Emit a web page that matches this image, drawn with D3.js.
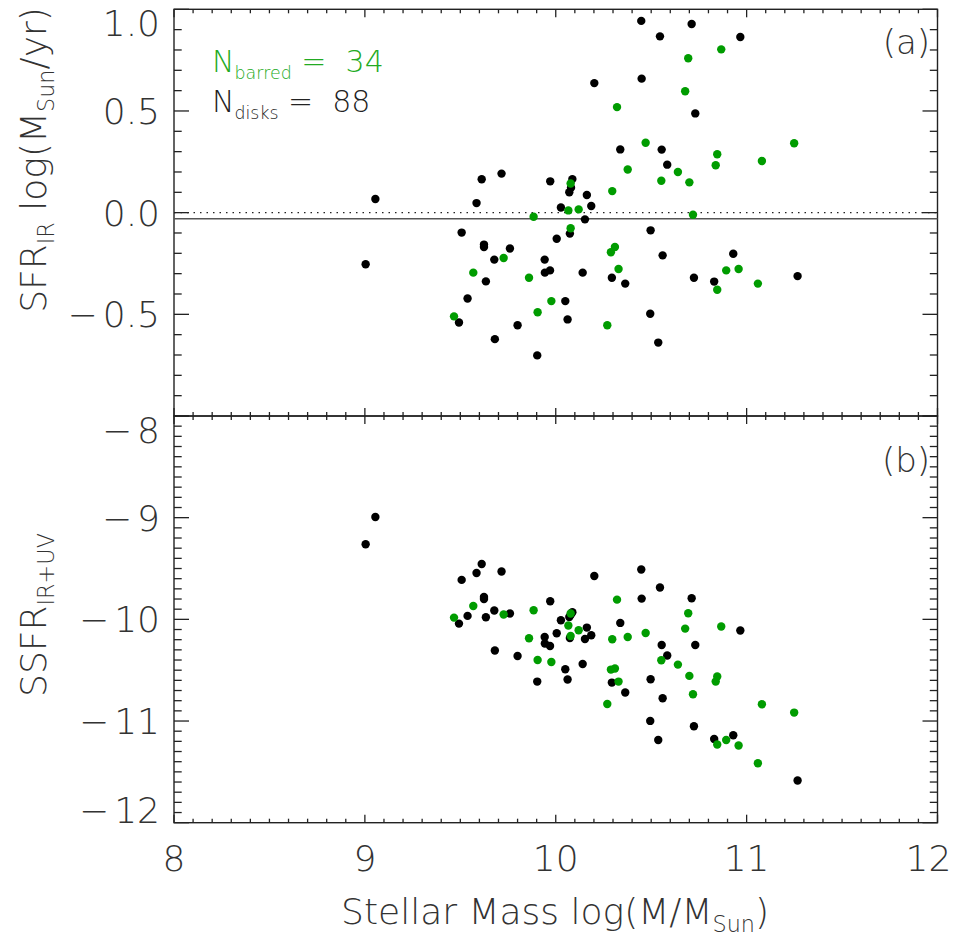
<!DOCTYPE html>
<html lang="en">
    <head>
        <meta charset="utf-8">
        <title>SFR vs Stellar Mass</title>
        <script src="https://d3js.org/d3.v7.min.js"></script>
        <style>
            body { margin: 0; background: #fff; }
            text { font-family: "DejaVu Sans", "Liberation Sans", sans-serif; font-weight: 200; fill: #333; }
        </style>
    </head>
    <body>
        <script type="text/javascript">

        	var w = 963;
        	var h = 938;

        	// disks without bars (black)
        	var diskMass = [9.004, 9.055, 9.493, 9.507, 9.538, 9.585, 9.612, 9.624, 9.624, 9.634,
        	                9.678, 9.681, 9.716, 9.760, 9.800, 9.903, 9.942, 9.943, 9.970, 9.971,
        	                10.005, 10.027, 10.050, 10.062, 10.071, 10.074, 10.080, 10.087, 10.141, 10.153,
        	                10.163, 10.186, 10.202, 10.294, 10.338, 10.364, 10.448, 10.450, 10.495, 10.497,
        	                10.537, 10.546, 10.555, 10.560, 10.584, 10.712, 10.724, 10.731, 10.830, 10.930,
        	                10.967, 11.267];
        	var diskSFR = [-0.254, 0.067, -0.540, -0.098, -0.422, 0.047, 0.164, -0.157, -0.169, -0.338,
        	               -0.231, -0.622, 0.192, -0.176, -0.554, -0.702, -0.231, -0.295, -0.284, 0.154,
        	               -0.128, 0.025, -0.435, -0.525, 0.100, -0.103, 0.123, 0.165, -0.295, -0.033,
        	               0.087, 0.033, 0.637, -0.320, 0.311, -0.349, 0.943, 0.659, -0.497, -0.087,
        	               -0.639, 0.867, 0.310, -0.210, 0.236, 0.928, -0.320, 0.488, -0.339, -0.202,
        	               0.864, -0.312];
        	var diskSSFR = [-9.262, -8.993, -10.042, -9.612, -9.966, -9.544, -9.455, -9.780, -9.800, -9.979,
        	                -9.913, -10.307, -9.530, -9.943, -10.360, -10.612, -10.173, -10.238, -10.262, -9.822,
        	                -10.137, -10.009, -10.491, -10.592, -9.976, -10.183, -9.950, -9.930, -10.439, -10.193,
        	                -10.081, -10.156, -9.573, -10.622, -10.035, -10.720, -9.510, -9.796, -10.999, -10.589,
        	                -11.186, -9.687, -10.252, -10.776, -10.356, -9.793, -11.051, -10.252, -11.176, -11.140,
        	                -10.110, -11.585];

        	// barred disks (green)
        	var barMass = [9.467, 9.568, 9.727, 9.860, 9.884, 9.905, 9.977, 10.066, 10.078, 10.078,
        	               10.120, 10.270, 10.289, 10.296, 10.310, 10.321, 10.329, 10.377, 10.471, 10.553,
        	               10.640, 10.678, 10.694, 10.700, 10.719, 10.838, 10.846, 10.846, 10.867, 10.893,
        	               10.958, 11.059, 11.080, 11.249];
        	var barSFR = [-0.510, -0.295, -0.223, -0.320, -0.020, -0.490, -0.435, 0.011, 0.143, -0.077,
        	              0.016, -0.554, -0.195, 0.106, -0.169, 0.519, -0.277, 0.212, 0.344, 0.157,
        	              0.200, 0.597, 0.759, 0.149, -0.010, 0.233, 0.287, -0.379, 0.803, -0.284,
        	              -0.277, -0.349, 0.254, 0.341];
        	var barSSFR = [-9.983, -9.868, -9.953, -10.186, -9.911, -10.400, -10.419, -10.061, -9.943, -10.163,
        	               -10.107, -10.832, -10.494, -10.196, -10.484, -9.806, -10.612, -10.173, -10.134, -10.402,
        	               -10.445, -10.091, -9.940, -10.556, -10.737, -10.612, -10.562, -11.231, -10.071, -11.186,
        	               -11.241, -11.415, -10.835, -10.917];

        	var xTicks = [8, 9, 10, 11, 12];
        	var topTicks = [-0.5, 0.0, 0.5, 1.0];
        	var botTicks = [-12, -11, -10, -9, -8];
        	var sfrLine = -0.03;

        	var green = "#009c00";

        	var x = d3.scaleLinear().domain([8, 12]).range([174, 937.5]);
        	var yTop = d3.scaleLinear().domain([-1, 1]).range([416, 9.3]);
        	var yBot = d3.scaleLinear().domain([-12, -8]).range([822.7, 416]);

        	function minors(lo, hi, step){
        		return d3.range(Math.round((hi - lo) / step) + 1).map(function(i){ return +(lo + i * step).toFixed(3); });
        	}

        	function fmt(v, dec){
        		return dec ? Math.abs(v).toFixed(1) : String(Math.abs(v));
        	}

			var svg = d3.select("body")
						.append("svg")
						.attr("width", w)
						.attr("height", h);

			svg.append("rect").attr("width", w).attr("height", h).attr("fill", "#fff");

			function tickMarks(g, vals, len, orient){
				g.selectAll(null)
				 .data(vals)
				 .enter()
				 .append("line")
				 .attr("stroke", "#222")
				 .attr("stroke-width", 1.3)
				 .each(function(d){
				 	var l = d3.select(this);
				 	if (orient.axis === "y") {
				 		var yy = orient.scale(d);
				 		l.attr("x1", orient.at).attr("x2", orient.at + orient.dir * len(d)).attr("y1", yy).attr("y2", yy);
				 	} else {
				 		var xx = x(d);
				 		l.attr("y1", orient.at).attr("y2", orient.at + orient.dir * len(d)).attr("x1", xx).attr("x2", xx);
				 	}
				 });
			}

			function panel(yScale, yDom, labels, dec){
				var g = svg.append("g");
				var top = yScale(yDom[1]), bot = yScale(yDom[0]);
				var yMinor = minors(yDom[0], yDom[1], 0.1);
				var ylen = function(d){
					var maj = dec ? Math.abs(d * 2 - Math.round(d * 2)) < 1e-6 : Math.abs(d - Math.round(d)) < 1e-6;
					return maj ? 15 : 7.7;
				};
				tickMarks(g, yMinor, ylen, {axis: "y", scale: yScale, at: 174, dir: 1});
				tickMarks(g, yMinor, ylen, {axis: "y", scale: yScale, at: 937.5, dir: -1});
				var xMinor = minors(8, 12, 0.1);
				var xlen = function(d){ return Math.abs(d - Math.round(d)) < 1e-6 ? 8 : 4; };
				tickMarks(g, xMinor, xlen, {axis: "x", at: bot, dir: -1});
				tickMarks(g, xMinor, xlen, {axis: "x", at: top, dir: 1});
				g.append("rect")
				 .attr("x", 174).attr("y", top)
				 .attr("width", 937.5 - 174).attr("height", bot - top)
				 .attr("fill", "none").attr("stroke", "#222").attr("stroke-width", 1.4);

				// tick labels, nudged inside the frame at the ends
				var t = g.selectAll("text.yl")
				 .data(labels)
				 .enter()
				 .append("text")
				 .attr("class", "yl")
				 .attr("x", 160)
				 .attr("y", function(d){
				 	var yy = yScale(d);
				 	if (Math.abs(yy - top) < 1) yy += 14;
				 	if (Math.abs(yy - bot) < 1) yy -= 13;
				 	return yy;
				 })
				 .attr("dy", "0.36em")
				 .attr("text-anchor", "end")
				 .attr("font-size", 36);
				t.filter(function(d){ return d < 0; })
				 .append("tspan").text("\u2212");
				t.append("tspan")
				 .attr("dx", function(d){ return d < 0 ? 5 : 0; })
				 .text(function(d){ return fmt(d, dec); });
				return g;
			}

			panel(yTop, [-1, 1], topTicks, true);
			panel(yBot, [-12, -8], botTicks, false);

			// reference lines in panel (a)
			svg.append("line")
			   .attr("x1", 174).attr("x2", 937.5)
			   .attr("y1", yTop(0)).attr("y2", yTop(0))
			   .attr("stroke", "#222").attr("stroke-width", 1.2)
			   .attr("stroke-dasharray", "1.5,5");
			svg.append("line")
			   .attr("x1", 174).attr("x2", 937.5)
			   .attr("y1", yTop(sfrLine)).attr("y2", yTop(sfrLine))
			   .attr("stroke", "#555").attr("stroke-width", 1.5);

			// x tick labels
			svg.selectAll("text.xl")
			   .data(xTicks)
			   .enter()
			   .append("text")
			   .attr("class", "xl")
			   .attr("x", function(d){ return d === 12 ? x(d) - 9 : x(d); })
			   .attr("y", 871)
			   .attr("text-anchor", "middle")
			   .attr("font-size", 36)
			   .text(function(d){ return d; });

			var disks = diskMass.map(function(m, i){ return {m: m, sfr: diskSFR[i], ssfr: diskSSFR[i]}; });
			var bars = barMass.map(function(m, i){ return {m: m, sfr: barSFR[i], ssfr: barSSFR[i]}; });

			function dots(data, color){
				svg.append("g").selectAll("circle")
				   .data(data)
				   .enter()
				   .append("circle")
				   .attr("cx", function(d){ return x(d.m); })
				   .attr("cy", function(d){ return yTop(d.sfr); })
				   .attr("r", 4.2)
				   .attr("fill", color);
				svg.append("g").selectAll("circle")
				   .data(data)
				   .enter()
				   .append("circle")
				   .attr("cx", function(d){ return x(d.m); })
				   .attr("cy", function(d){ return yBot(d.ssfr); })
				   .attr("r", 4.2)
				   .attr("fill", color);
			}
			dots(disks, "#000");
			dots(bars, green);

			// labels
			function label(px, py, parts, opts){
				var t = svg.append("text")
				           .attr("x", px).attr("y", py)
				           .attr("font-size", opts.size);
				if (opts.rotate) t.attr("transform", "rotate(-90," + px + "," + py + ")");
				if (opts.anchor) t.attr("text-anchor", opts.anchor);
				if (opts.fill) t.style("fill", opts.fill);
				var sub = opts.sub || 0.62;
				parts.forEach(function(p){
					var s = t.append("tspan").text(p[0]);
					if (p[1] === "sub") s.attr("font-size", opts.size * sub).attr("dy", opts.size * 0.22);
					if (p[1] === "up") s.attr("dy", -opts.size * 0.22);
				});
				return t;
			}

			label(555, 924, [["Stellar Mass log(M/M"], ["Sun", "sub"], [")", "up"]], {size: 36, anchor: "middle"});
			label(46, 160, [["SFR"], ["IR", "sub"], [" log(M", "up"], ["Sun", "sub"], ["/yr)", "up"]], {size: 36, anchor: "middle", rotate: true});
			label(46, 615, [["SSFR"], ["IR+UV", "sub"]], {size: 36, anchor: "middle", rotate: true});

			label(212, 72, [["N"], ["barred", "sub"], ["\u00a0=\u00a0\u00a034", "up"]], {size: 30, fill: "#22aa22", sub: 0.58});
			label(212, 112, [["N"], ["disks", "sub"], ["\u00a0=\u00a0\u00a088", "up"]], {size: 30, fill: "#222", sub: 0.58});

			label(930, 54, [["(a)"]], {size: 34, anchor: "end"});
			label(930, 472, [["(b)"]], {size: 34, anchor: "end"});

		</script>
    </body>
</html>
